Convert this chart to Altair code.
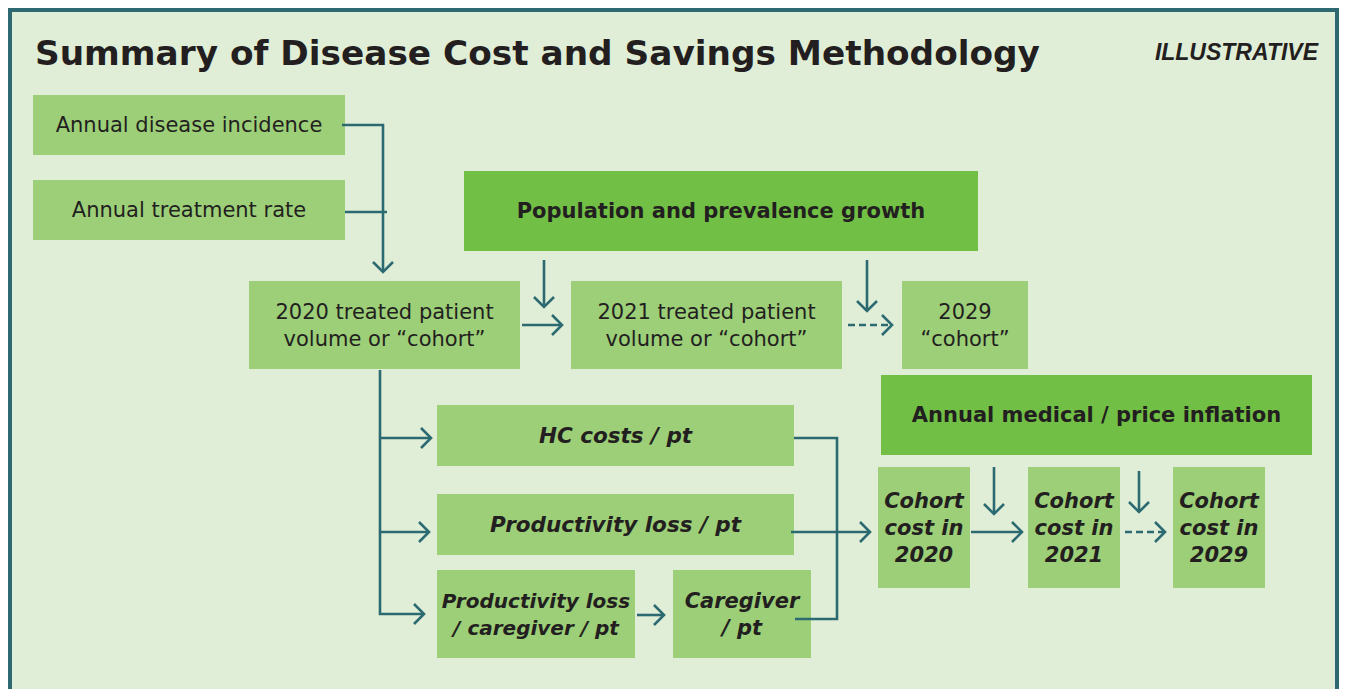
import altair as alt
import pandas as pd

# ---------------- data ----------------
title_text = "Summary of Disease Cost and Savings Methodology"
tag_text = "ILLUSTRATIVE"

box_labels = [
    "Annual disease incidence",
    "Annual treatment rate",
    "Population and prevalence growth",
    "2020 treated patient\nvolume or \u201ccohort\u201d",
    "2021 treated patient\nvolume or \u201ccohort\u201d",
    "2029\n\u201ccohort\u201d",
    "Annual medical / price inflation",
    "HC costs / pt",
    "Productivity loss / pt",
    "Productivity loss\n/ caregiver / pt",
    "Caregiver\n/ pt",
    "Cohort\ncost in\n2020",
    "Cohort\ncost in\n2021",
    "Cohort\ncost in\n2029",
]
box_left = [33, 33, 464, 249, 571, 902, 881, 437, 437, 437, 673, 878, 1028, 1173]
box_right = [345, 345, 978, 520, 842, 1028, 1312, 794, 794, 635, 811, 970, 1120, 1265]
box_top = [95, 180, 171, 281, 281, 281, 375, 405, 494, 570, 570, 467, 467, 467]
box_bottom = [155, 240, 251, 369, 369, 369, 455, 466, 555, 658, 658, 588, 588, 588]
box_kind = ["input", "input", "driver", "input", "input", "input", "driver",
            "cost", "cost", "costsm", "costmd", "costmd", "costmd", "costmd"]

# connector polylines (x, y) and their end style
path_points = [
    [(342, 125), (383, 125), (383, 272)],
    [(345, 212), (387, 212)],
    [(544, 260), (544, 307)],
    [(867, 260), (867, 311)],
    [(522, 325), (562, 325)],
    [(848, 325), (892, 325)],
    [(380, 370), (380, 614), (424, 614)],
    [(380, 438), (431, 438)],
    [(380, 532), (429, 532)],
    [(794, 438), (837, 438), (837, 619), (795, 619)],
    [(791, 532), (870, 532)],
    [(637, 615), (664, 615)],
    [(971, 532), (1022, 532)],
    [(1125, 532), (1165, 532)],
    [(994, 467), (994, 514)],
    [(1139, 471), (1139, 512)],
]
path_head = ["down", "none", "down", "down", "right", "right", "right", "right",
             "right", "none", "right", "right", "right", "right", "down", "down"]
path_dashed = [False, False, False, False, False, True, False, False,
               False, False, False, False, False, True, False, False]

# ---------------- styles ----------------
BG = "#e1eed7"
LIGHT = "#9dcf78"
DARK = "#71bf45"
TEAL = "#2c6a71"
INK = "#231f20"
FONT = "DejaVu Sans"
ARM = 10
LH = 27
W, H = 1331, 681
X0, Y0 = 8, 8

boxes = pd.DataFrame({
    "label": box_labels, "x1": box_left, "x2": box_right,
    "y1": box_top, "y2": box_bottom, "kind": box_kind,
})
boxes["cx"] = (boxes.x1 + boxes.x2) / 2
nlines = boxes.label.str.count("\n")
boxes["cy"] = (boxes.y1 + boxes.y2) / 2 - nlines * LH / 2 + 1

rows = []
for i, (pts, head, dashed) in enumerate(zip(path_points, path_head, path_dashed)):
    for j, (px, py) in enumerate(pts):
        rows.append({"pid": f"p{i}", "o": j, "x": px, "y": py, "dashed": dashed})
    tx, ty = pts[-1]
    if head == "right":
        arms = [(tx - ARM, ty - ARM), (tx, ty), (tx - ARM, ty + ARM)]
    elif head == "down":
        arms = [(tx - ARM, ty - ARM), (tx, ty), (tx + ARM, ty - ARM)]
    else:
        arms = []
    for j, (px, py) in enumerate(arms):
        rows.append({"pid": f"h{i}", "o": j, "x": px, "y": py, "dashed": False})
lines = pd.DataFrame(rows)

xs = alt.Scale(domain=[X0, X0 + W], nice=False, zero=False)
ys = alt.Scale(domain=[Y0, Y0 + H], nice=False, zero=False, reverse=True)

frame = pd.DataFrame({
    "x": [10, 8, 1337], "y": [8, 10, 8], "x2": [10, 1339, 1337], "y2": [700, 10, 700]
})
frame_layer = alt.Chart(frame).mark_rule(color="#2e6870", strokeWidth=4).encode(
    x=alt.X("x:Q", scale=xs, axis=None), y=alt.Y("y:Q", scale=ys, axis=None),
    x2="x2:Q", y2="y2:Q")

rect_layer = alt.Chart(boxes).mark_rect().encode(
    x=alt.X("x1:Q", scale=xs, axis=None), x2="x2:Q",
    y=alt.Y("y1:Q", scale=ys, axis=None), y2="y2:Q",
    color=alt.condition(alt.datum.kind == "driver", alt.value(DARK), alt.value(LIGHT)),
)

def text_layer(kinds, weight, style, size):
    return alt.Chart(boxes).transform_filter(
        alt.FieldOneOfPredicate(field="kind", oneOf=kinds)
    ).mark_text(font=FONT, fontSize=size, fontWeight=weight, fontStyle=style,
                color=INK, lineBreak="\n", lineHeight=LH, baseline="middle",
                align="center").encode(
        x=alt.X("cx:Q", scale=xs, axis=None), y=alt.Y("cy:Q", scale=ys, axis=None),
        text="label:N")

t_input = text_layer(["input"], "normal", "normal", 21)
t_driver = text_layer(["driver"], "bold", "normal", 21)
t_cost = text_layer(["cost"], "bold", "italic", 21.5)
t_costsm = text_layer(["costsm"], "bold", "italic", 20)
t_costmd = text_layer(["costmd"], "bold", "italic", 21)

solid = alt.Chart(lines).transform_filter("!datum.dashed").mark_line(
    color=TEAL, strokeWidth=2.6, strokeJoin="miter", strokeCap="butt").encode(
    x=alt.X("x:Q", scale=xs, axis=None), y=alt.Y("y:Q", scale=ys, axis=None),
    detail="pid:N", order="o:Q")
dashed = alt.Chart(lines).transform_filter("datum.dashed").mark_line(
    color=TEAL, strokeWidth=2.6, strokeDash=[7, 4]).encode(
    x=alt.X("x:Q", scale=xs, axis=None), y=alt.Y("y:Q", scale=ys, axis=None),
    detail="pid:N", order="o:Q")

titles = pd.DataFrame({"t": [title_text], "x": [35], "y": [65]})
title_layer = alt.Chart(titles).mark_text(
    font=FONT, fontSize=34.3, fontWeight="bold", color=INK, align="left",
    baseline="alphabetic").encode(
    x=alt.X("x:Q", scale=xs, axis=None), y=alt.Y("y:Q", scale=ys, axis=None), text="t:N")
tags = pd.DataFrame({"t": [tag_text], "x": [1318], "y": [60]})
tag_layer = alt.Chart(tags).mark_text(
    font="Liberation Sans", fontSize=23, fontWeight="bold", fontStyle="italic",
    color=INK, align="right", baseline="alphabetic").encode(
    x=alt.X("x:Q", scale=xs, axis=None), y=alt.Y("y:Q", scale=ys, axis=None), text="t:N")

chart = alt.layer(
    frame_layer, rect_layer, t_input, t_driver, t_cost, t_costsm, t_costmd,
    solid, dashed, title_layer, tag_layer
).properties(
    width=W, height=H, background=BG, padding=0, autosize="none"
).configure_view(stroke=None)

chart.save("out.html", embed_options={"renderer": "svg", "actions": False})
